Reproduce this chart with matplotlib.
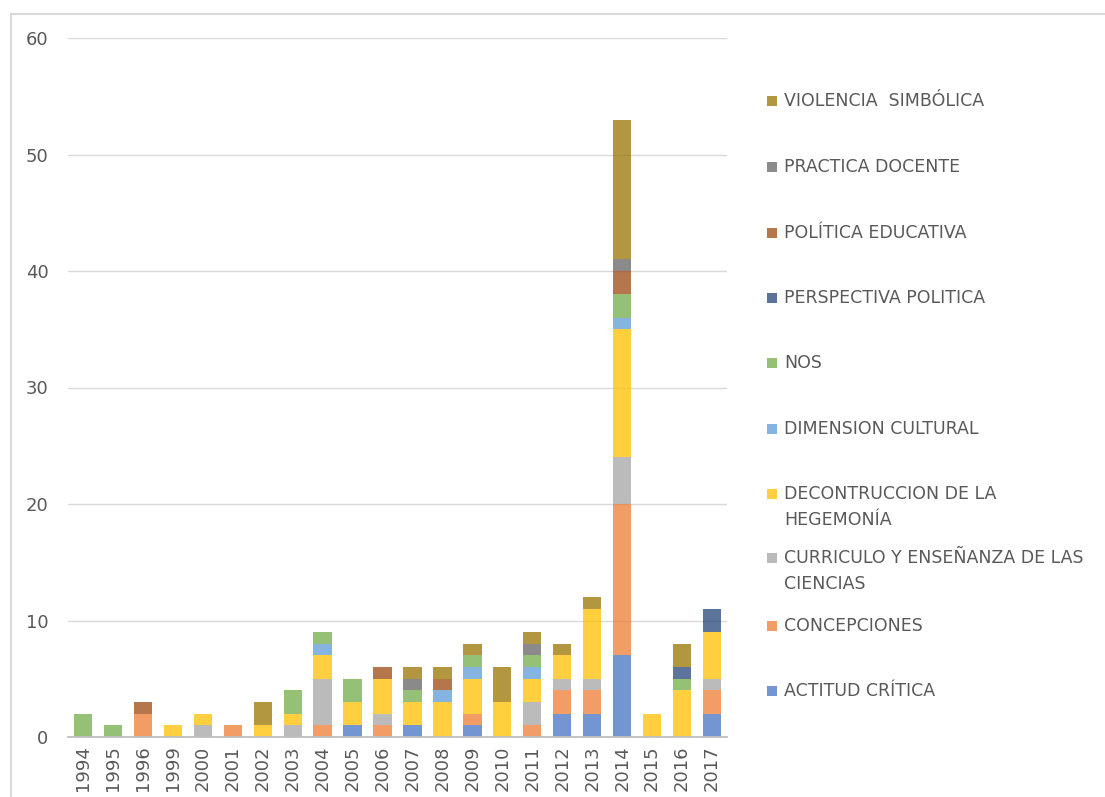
import numpy as np
import matplotlib.pyplot as plt
from matplotlib.patches import Rectangle

# años y categorías (de abajo hacia arriba en cada barra)
anios = ["1994", "1995", "1996", "1999", "2000", "2001", "2002", "2003", "2004",
         "2005", "2006", "2007", "2008", "2009", "2010", "2011", "2012", "2013",
         "2014", "2015", "2016", "2017"]

categorias = ["ACTITUD CRÍTICA", "CONCEPCIONES",
              "CURRICULO Y ENSEÑANZA DE LAS\nCIENCIAS",
              "DECONTRUCCION DE LA\nHEGEMONÍA", "DIMENSION CULTURAL", "NOS",
              "PERSPECTIVA POLITICA", "POLÍTICA EDUCATIVA", "PRACTICA DOCENTE",
              "VIOLENCIA  SIMBÓLICA"]

actitud_critica = [0, 0, 0, 0, 0, 0, 0, 0, 0, 1, 0, 1, 0, 1, 0, 0, 2, 2, 7, 0, 0, 2]
concepciones    = [0, 0, 2, 0, 0, 1, 0, 0, 1, 0, 1, 0, 0, 1, 0, 1, 2, 2, 13, 0, 0, 2]
curriculo       = [0, 0, 0, 0, 1, 0, 0, 1, 4, 0, 1, 0, 0, 0, 0, 2, 1, 1, 4, 0, 0, 1]
decontruccion   = [0, 0, 0, 1, 1, 0, 1, 1, 2, 2, 3, 2, 3, 3, 3, 2, 2, 6, 11, 2, 4, 4]
dimension_cult  = [0, 0, 0, 0, 0, 0, 0, 0, 1, 0, 0, 0, 1, 1, 0, 1, 0, 0, 1, 0, 0, 0]
nos             = [2, 1, 0, 0, 0, 0, 0, 2, 1, 2, 0, 1, 0, 1, 0, 1, 0, 0, 2, 0, 1, 0]
perspectiva_pol = [0, 0, 0, 0, 0, 0, 0, 0, 0, 0, 0, 0, 0, 0, 0, 0, 0, 0, 0, 0, 1, 2]
politica_educ   = [0, 0, 1, 0, 0, 0, 0, 0, 0, 0, 1, 0, 1, 0, 0, 0, 0, 0, 2, 0, 0, 0]
practica_doc    = [0, 0, 0, 0, 0, 0, 0, 0, 0, 0, 0, 1, 0, 0, 0, 1, 0, 0, 1, 0, 0, 0]
violencia_simb  = [0, 0, 0, 0, 0, 0, 2, 0, 0, 0, 0, 1, 1, 1, 3, 1, 1, 1, 12, 0, 2, 0]

series = [actitud_critica, concepciones, curriculo, decontruccion, dimension_cult,
          nos, perspectiva_pol, politica_educ, practica_doc, violencia_simb]

colores = ["#4472C4", "#ED7D31", "#A5A5A5", "#FFC000", "#5B9BD5",
           "#70AD47", "#264478", "#9E480E", "#636363", "#997300"]
alfa = 0.75
gris_txt = "#595959"

W, H = 1105, 797
fig = plt.figure(figsize=(W / 100, H / 100), dpi=100)

# marco exterior del gráfico
fig.patches.append(Rectangle((11 / W, -0.1), 1.2, (H - 14) / H + 0.1,
                             transform=fig.transFigure, fill=False,
                             edgecolor="#D9D9D9", linewidth=1.5))

ax = fig.add_axes([68 / W, (H - 737) / H, (727 - 68) / W, (737 - 38) / H])

x = np.arange(len(anios))
base = np.zeros(len(anios))
for datos, cor in zip(series, colores):
    ax.bar(x, datos, bottom=base, width=0.61, color=cor, alpha=alfa, linewidth=0)
    base += np.array(datos)

ax.set_xlim(-0.5, len(anios) - 0.5)
ax.set_ylim(0, 60)
ax.set_yticks(range(0, 61, 10))
ax.set_xticks(x)
ax.set_xticklabels(anios, rotation=90)

for s in ["top", "right", "left"]:
    ax.spines[s].set_visible(False)
ax.spines["bottom"].set_color("#BFBFBF")
ax.spines["bottom"].set_linewidth(1.3)

ax.yaxis.grid(True, color="#D9D9D9", linewidth=1)
ax.set_axisbelow(True)
ax.tick_params(axis="y", length=0, pad=14, labelsize=13, labelcolor=gris_txt)
ax.tick_params(axis="x", length=0, pad=6, labelsize=13, labelcolor=gris_txt)

# leyenda a la derecha, de arriba hacia abajo
y_pos = [101, 167, 233, 298, 363, 429, 494, 558, 626, 691]
for yp, cat, cor in zip(y_pos, categorias[::-1], colores[::-1]):
    fig.patches.append(Rectangle((767 / W, (H - yp - 5) / H), 10 / W, 10 / H,
                                 transform=fig.transFigure, facecolor=cor,
                                 alpha=alfa, linewidth=0))
    fig.text(784 / W, (H - yp + 9) / H, cat, ha="left", va="top",
             fontsize=12.5, color=gris_txt, linespacing=1.55,
             family=["Liberation Sans Narrow", "DejaVu Sans"])

fig.savefig("out.png", dpi=100)
